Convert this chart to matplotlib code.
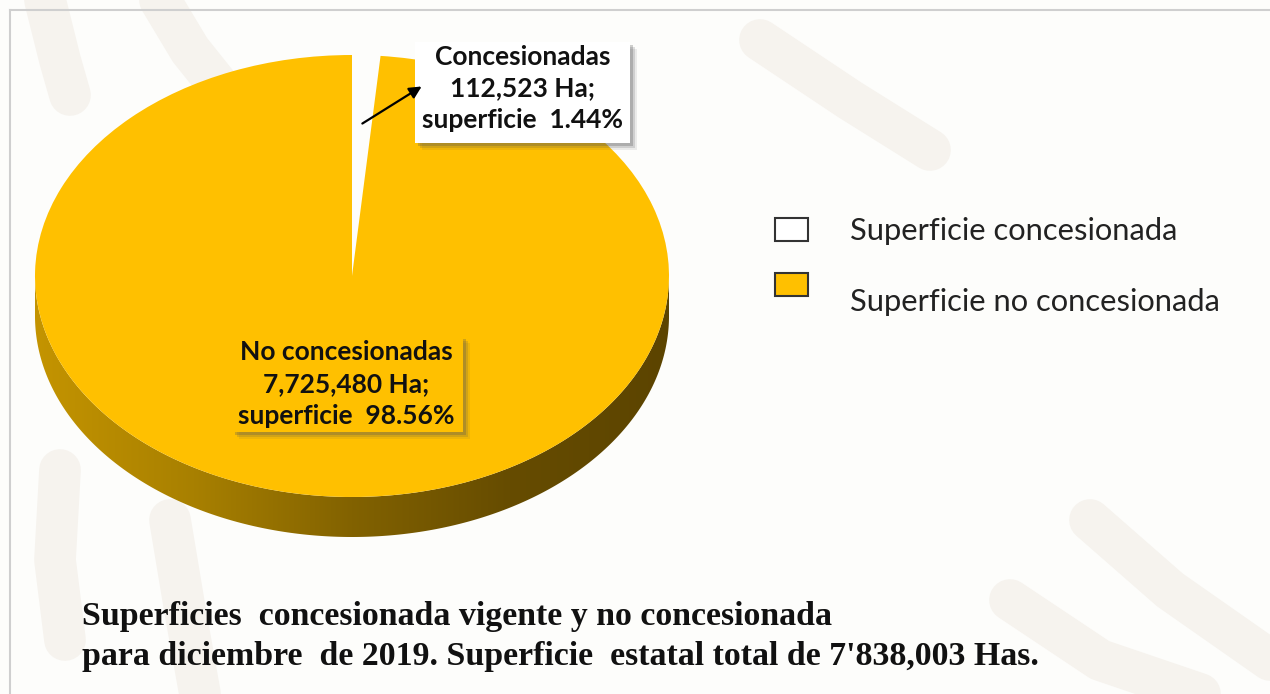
import numpy as np
import matplotlib.pyplot as plt
from matplotlib.patches import Rectangle, Polygon
from matplotlib.colors import LinearSegmentedColormap

# data
labels = ["Concesionadas", "No concesionadas"]
legend_labels = ["Superficie concesionada", "Superficie no concesionada"]
hectares = [112523, 7725480]
total = 7838003
colors = ["#FDFDFB", "#FFC000"]
caption = ["Superficies  concesionada vigente y no concesionada",
           "para diciembre  de 2019. Superficie  estatal total de 7'838,003 Has."]

W, H = 1270, 694
BG = "#FDFDFB"
PAT = "#F6F3EE"

fig = plt.figure(figsize=(W / 100, H / 100), dpi=100, facecolor=BG)

# background axes in pixel coordinates
bg = fig.add_axes([0, 0, 1, 1], zorder=0)
bg.set_xlim(0, W)
bg.set_ylim(H, 0)
bg.axis("off")
bg.set_facecolor(BG)

# faint watermark strokes
strokes = [
    ([45, 60, 70], [0, 60, 95]),
    ([160, 190, 230], [0, 50, 100]),
    ([760, 850, 930], [40, 100, 150]),
    ([1090, 1170, 1270], [520, 590, 660]),
    ([1010, 1100, 1200], [600, 660, 694]),
    ([60, 55, 65], [470, 560, 640]),
    ([170, 185, 200], [520, 610, 694]),
]
for xs, ys in strokes:
    bg.plot(xs, ys, color=PAT, lw=30, solid_capstyle="round", zorder=0)

# frame lines
bg.plot([10, W], [10, 10], color="#CFCFCF", lw=1.5, zorder=1)
bg.plot([10, 10], [10, H], color="#CFCFCF", lw=1.5, zorder=1)

# pie axes: top face 35..669 x 55..497, side down to 537 px
depth = 40 / 221
pie_ax = fig.add_axes([35 / W, (H - 537) / H, 634 / W, 482 / H], zorder=1)
pie_ax.patch.set_alpha(0)

# side of the cylinder with horizontal shading
t = np.linspace(np.pi, 2 * np.pi, 300)
upper = np.column_stack([np.cos(t), np.sin(t)])
lower = np.column_stack([np.cos(t[::-1]), np.sin(t[::-1]) - depth])
side = Polygon(np.vstack([upper, lower]), closed=True, facecolor="none", edgecolor="none")
pie_ax.add_patch(side)
shade = LinearSegmentedColormap.from_list("shade", ["#C49400", "#A88000", "#826200", "#664C00", "#5C4400"])
grad = np.linspace(0, 1, 256).reshape(1, -1)
im = pie_ax.imshow(grad, cmap=shade, extent=(-1, 1, -1 - depth, 0), aspect="auto", zorder=1)
im.set_clip_path(side)

wedges, _ = pie_ax.pie(hectares, colors=colors, startangle=90, counterclock=False,
                       radius=1, center=(0, 0), wedgeprops=dict(linewidth=0))
for w in wedges:
    w.set_zorder(2)
pie_ax.set_aspect("auto")
pie_ax.set_xlim(-1, 1)
pie_ax.set_ylim(-1 - depth, 1)
pie_ax.axis("off")

# overlay axes for labels and legend
ov = fig.add_axes([0, 0, 1, 1], zorder=2)
ov.set_xlim(0, W)
ov.set_ylim(H, 0)
ov.axis("off")
ov.patch.set_alpha(0)

LFONT = "Lato"


def label_box(x0, y0, w, h, face, lines, cx, ys):
    for k, a in [(7, 0.10), (5, 0.18), (3, 0.28)]:
        ov.add_patch(Rectangle((x0 + k, y0 + k), w, h, facecolor="#555555", alpha=a, lw=0))
    ov.add_patch(Rectangle((x0, y0), w, h, facecolor=face, lw=0))
    for line, y in zip(lines, ys):
        ov.text(cx, y, line, ha="center", va="center", fontsize=19,
                fontweight="bold", family=LFONT, color="#111111")


pct = [v / total * 100 for v in hectares]
label_box(415, 42, 215, 101, "white",
          [labels[0], f"{hectares[0]:,} Ha;", f"superficie  {pct[0]:.2f}%"], 523, [57, 88, 120])
label_box(232, 336, 231, 96, colors[1],
          [labels[1], f"{hectares[1]:,} Ha;", f"superficie  {pct[1]:.2f}%"], 346, [352, 384, 416])

ov.annotate("", xy=(424, 85), xytext=(360, 125),
            arrowprops=dict(arrowstyle="-|>", color="black", lw=1.6, mutation_scale=18))

# legend
legend_y = [(218, 231), (273, 302)]
legend_faces = ["white", colors[1]]
for (ry, ty), face, txt in zip(legend_y, legend_faces, legend_labels):
    ov.add_patch(Rectangle((775, ry), 33, 23, facecolor=face, edgecolor="#333333", lw=1.5))
    ov.text(850, ty, txt, ha="left", va="center", fontsize=22.2, family=LFONT, color="#222222")

# caption
for i, line in enumerate(caption):
    ov.text(82, 617 + 40 * i, line, ha="left", va="center", fontsize=24.4,
            fontweight="bold", family="Liberation Serif", color="#111111")

fig.savefig("out.png", dpi=100, facecolor=BG)
